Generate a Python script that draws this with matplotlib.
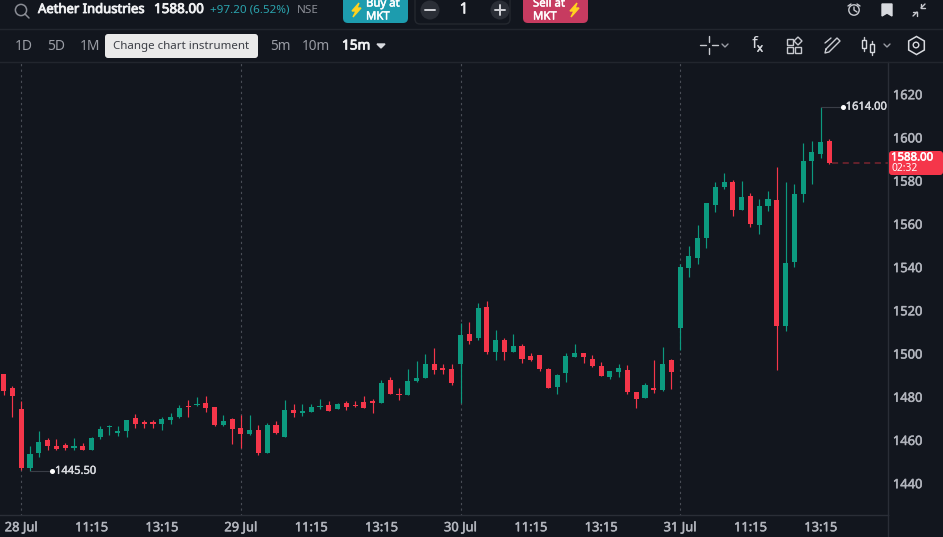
import numpy as np
import matplotlib
matplotlib.use('Agg')
import matplotlib.pyplot as plt
import matplotlib.patheffects as pe
from matplotlib.patches import FancyBboxPatch, Circle, Polygon, Rectangle

plt.rcParams['font.family'] = ['Noto Sans', 'DejaVu Sans']

# 15m candles, first one is two bars before the 28 Jul open
opens = [1490.4, 1483.9, 1474.2, 1446.9, 1453.9, 1459.9, 1457.1, 1457.6, 1456.2, 1457.1, 1455.3, 1461.3,
         1465.9, 1463.1, 1464.1, 1470.1, 1468.2, 1468.2, 1467.3, 1469.2, 1470.5, 1475.6, 1476.1, 1477.0,
         1475.2, 1466.8, 1469.6, 1465.4, 1462.7, 1464.5, 1453.9, 1466.8, 1461.3, 1473.8, 1472.4, 1472.9,
         1475.2, 1476.1, 1474.2, 1477.0, 1476.1, 1477.5, 1478.0, 1477.0, 1487.7, 1481.2, 1480.7, 1487.2,
         1488.6, 1495.1, 1493.2, 1492.7, 1495.1, 1508.9, 1507.1, 1521.4, 1500.6, 1506.2, 1500.6, 1503.4,
         1498.8, 1499.2, 1492.7, 1484.4, 1490.9, 1498.3, 1500.1, 1497.4, 1494.1, 1489.0, 1491.4, 1492.3,
         1482.1, 1479.3, 1483.9, 1483.0, 1496.9, 1511.7, 1539.5, 1544.1, 1553.4, 1568.6, 1577.0, 1579.3,
         1566.3, 1572.8, 1559.4, 1568.2, 1570.9, 1512.6, 1542.3, 1573.7, 1589.0, 1592.2, 1598.2]
closes = [1482.6, 1480.2, 1446.9, 1453.4, 1459.0, 1457.1, 1455.7, 1456.2, 1457.1, 1455.3, 1460.8, 1465.0,
          1466.4, 1464.1, 1469.2, 1467.3, 1467.3, 1467.3, 1469.6, 1470.5, 1474.7, 1475.2, 1476.5, 1474.7,
          1466.8, 1468.7, 1465.0, 1462.7, 1464.5, 1453.9, 1466.8, 1463.1, 1473.8, 1472.4, 1473.3, 1475.2,
          1475.6, 1473.3, 1476.5, 1475.2, 1475.6, 1474.7, 1477.0, 1486.3, 1481.2, 1480.7, 1487.2, 1488.6,
          1495.1, 1492.3, 1492.3, 1486.3, 1508.5, 1505.7, 1521.0, 1500.6, 1506.2, 1500.6, 1503.4, 1497.4,
          1496.9, 1492.7, 1483.9, 1490.0, 1498.8, 1500.1, 1498.3, 1494.1, 1489.5, 1491.8, 1493.2, 1482.1,
          1478.9, 1485.3, 1483.0, 1495.1, 1491.4, 1540.0, 1545.0, 1553.4, 1569.6, 1577.0, 1579.3, 1566.3,
          1572.3, 1559.9, 1568.2, 1571.4, 1512.6, 1541.8, 1573.7, 1589.0, 1593.2, 1597.8, 1588.0]
highs = [1490.4, 1485.2, 1478.0, 1457.1, 1464.1, 1460.8, 1460.4, 1458.5, 1460.8, 1458.5, 1461.3, 1466.4,
         1466.8, 1466.4, 1469.2, 1471.9, 1469.2, 1469.2, 1470.5, 1472.4, 1476.1, 1478.4, 1479.8, 1480.2,
         1475.2, 1471.5, 1470.1, 1471.5, 1471.5, 1466.8, 1467.8, 1468.7, 1478.4, 1476.5, 1476.5, 1476.5,
         1478.9, 1478.0, 1477.0, 1478.0, 1478.0, 1480.2, 1478.9, 1487.7, 1489.0, 1483.9, 1492.7, 1496.5,
         1499.7, 1502.5, 1495.1, 1495.1, 1514.0, 1514.5, 1523.3, 1524.2, 1510.8, 1507.1, 1508.9, 1504.3,
         1500.1, 1499.2, 1493.2, 1490.4, 1500.1, 1504.3, 1500.1, 1499.2, 1496.0, 1491.8, 1495.1, 1494.6,
         1482.1, 1486.3, 1496.9, 1502.9, 1497.4, 1541.3, 1549.7, 1559.4, 1569.6, 1579.3, 1583.4, 1580.2,
         1579.7, 1574.2, 1571.4, 1575.1, 1586.2, 1579.3, 1578.3, 1597.3, 1598.2, 1614.0, 1599.2]
lows = [1480.7, 1470.5, 1446.0, 1445.5, 1452.0, 1455.3, 1455.3, 1455.3, 1455.3, 1455.3, 1455.3, 1460.4,
        1462.2, 1461.8, 1461.3, 1465.4, 1465.4, 1465.4, 1464.5, 1467.3, 1470.1, 1470.5, 1475.6, 1472.9,
        1466.4, 1466.4, 1458.0, 1456.2, 1462.2, 1453.0, 1453.9, 1462.7, 1461.3, 1470.5, 1471.0, 1472.9,
        1474.2, 1473.3, 1474.2, 1473.8, 1475.2, 1474.7, 1472.4, 1477.0, 1481.2, 1478.4, 1480.7, 1486.7,
        1488.6, 1490.4, 1490.4, 1485.3, 1477.0, 1504.3, 1506.2, 1499.7, 1496.9, 1496.9, 1500.6, 1495.5,
        1496.4, 1491.8, 1483.9, 1481.2, 1486.7, 1498.3, 1495.5, 1493.7, 1489.5, 1488.1, 1489.0, 1481.2,
        1474.7, 1479.3, 1481.6, 1482.6, 1483.5, 1501.5, 1535.3, 1541.3, 1548.7, 1565.4, 1576.0, 1563.5,
        1566.3, 1558.5, 1555.2, 1565.9, 1492.3, 1510.3, 1540.0, 1570.0, 1578.3, 1590.4, 1587.6]
first_bar = -2

price_ticks = [1440, 1460, 1480, 1500, 1520, 1540, 1560, 1580, 1600, 1620]
time_ticks = [0, 8, 16, 25, 33, 41, 50, 58, 66, 75, 83, 91]
time_labels = ['28 Jul', '11:15', '13:15', '29 Jul', '11:15', '13:15',
               '30 Jul', '11:15', '13:15', '31 Jul', '11:15', '13:15']
day_starts = [0, 25, 50, 75]
low_bar, low_price = 1, 1445.50
high_bar, high_price = 91, 1614.00
last_price = 1588.00

BG = '#12161e'
GREEN = '#0c9a7f'
RED = '#f5364a'
GREY = '#b2b5bd'
LINE = '#2a2e37'

W, H = 943, 537
fig = plt.figure(figsize=(W / 100, H / 100), dpi=100, facecolor=BG)


def heavy(txt, color, w=0.35):
    # the bold cut is not picked up, thicken the glyphs a little instead
    txt.set_path_effects([pe.withStroke(linewidth=w, foreground=color)])


# chart area 0..888 x 62..515 in pixels
ax = fig.add_axes([0, (H - 515) / H, 888 / W, (515 - 62) / H], facecolor=BG)
bars = np.arange(len(opens)) + first_bar
opens = np.array(opens)
closes = np.array(closes)
colors = [GREEN if c >= o else RED for o, c in zip(opens, closes)]

ax.vlines(day_starts, 1400, 1660, color='#4a4e57', lw=0.8, ls=(0, (2, 3)), zorder=1)
ax.vlines(bars, lows, highs, color=colors, lw=0.85, zorder=2)
ax.bar(bars, np.abs(closes - opens), bottom=np.minimum(opens, closes), width=0.58, color=colors, zorder=3)

ax.set_xlim(-2.42, 98.66)
ax.set_ylim(1425.3, 1634.9)
ax.yaxis.tick_right()
ax.set_yticks(price_ticks)
ax.set_xticks(time_ticks)
ax.set_xticklabels(time_labels)
ax.tick_params(axis='both', length=0, labelcolor=GREY, labelsize=9.3)
ax.tick_params(axis='y', pad=3.5)
ax.tick_params(axis='x', pad=4.5)
for lab in ax.get_xticklabels() + ax.get_yticklabels():
    heavy(lab, GREY)
for s in ['top', 'left']:
    ax.spines[s].set_visible(False)
for s in ['right', 'bottom']:
    ax.spines[s].set_color(LINE)
    ax.spines[s].set_linewidth(1)

# high / low callouts
ax.plot([low_bar, low_bar + 2.45], [low_price, low_price], color='#3a3e47', lw=0.8, zorder=2)
ax.plot(low_bar + 2.45, low_price, 'o', color='white', ms=2.6, zorder=4)
t = ax.text(low_bar + 2.85, low_price, '%.2f' % low_price, color='#d8dadf', fontsize=8, va='center')
heavy(t, '#d8dadf', 0.3)
ax.plot([high_bar, high_bar + 2.55], [high_price, high_price], color='#3a3e47', lw=0.8, zorder=2)
ax.plot(high_bar + 2.55, high_price, 'o', color='white', ms=2.6, zorder=4)
t = ax.text(high_bar + 2.85, high_price, '%.2f' % high_price, color='#d8dadf', fontsize=8, va='center')
heavy(t, '#d8dadf', 0.3)

# last price line
ax.plot([bars[-1] + 0.3, 98.66], [last_price, last_price], color='#7a2530', lw=1.1, ls=(0, (4, 3)), zorder=2)

# toolbar and overlays, pixel coordinates
ui = fig.add_axes([0, 0, 1, 1], facecolor='none')
ui.set_xlim(0, W)
ui.set_ylim(H, 0)
ui.axis('off')


def label(x, y, s, color='#9a9da5', size=9.5, w=0, ha='left'):
    t = ui.text(x, y, s, color=color, fontsize=size, ha=ha, va='center', zorder=6)
    if w:
        heavy(t, color, w)


def stroke(xs, ys, color='#c8cad0', lw=1.0):
    ui.plot(xs, ys, color=color, lw=lw, solid_capstyle='round')


def bolt(x, y):
    ui.add_patch(Polygon([(x + 3, y - 7), (x - 4, y + 1), (x, y + 1), (x - 3, y + 7), (x + 5, y - 2), (x + 1, y - 2)],
                         color='#ffd21f', zorder=6))


ui.plot([0, W], [29, 29], color='#22262e', lw=1)
ui.plot([0, W], [62, 62], color='#22262e', lw=1)
ui.plot([888, 888], [515, 537], color=LINE, lw=1)

# search
ui.add_patch(Circle((21, 10), 5.6, fill=False, ec='#8a8d95', lw=1.1))
stroke([25, 29], [14, 18], '#8a8d95', 1.1)

label(38, 9.5, 'Aether Industries', '#f0f1f3', 9.4, 0.6)
label(154, 9.5, '1588.00', '#f0f1f3', 9.7, 0.6)
label(210, 10.5, '+97.20 (6.52%)', '#2ba3ad', 8.4)
label(297, 10.5, 'NSE', '#8a8d95', 8.4)

# buy / qty / sell
ui.add_patch(FancyBboxPatch((343, -8), 65, 31, boxstyle='round,pad=0,rounding_size=5', fc='#1d9cae', ec='none'))
bolt(356, 10)
label(366, 4, 'Buy at', 'white', 8.2, 0.35)
label(366, 17, 'MKT', 'white', 8.2, 0.35)
ui.add_patch(FancyBboxPatch((415, -8), 95, 32, boxstyle='round,pad=0,rounding_size=5', fc='none', ec='#24282f', lw=1))
for cx in (430, 500):
    ui.add_patch(Circle((cx, 10), 9.5, fc='#2a2e36', ec='none'))
stroke([425, 435], [10, 10], '#d0d2d7', 1.4)
stroke([495, 505], [10, 10], '#d0d2d7', 1.4)
stroke([500, 500], [5, 15], '#d0d2d7', 1.4)
label(464, 10, '1', '#f0f1f3', 11, 0.4, 'center')
ui.add_patch(FancyBboxPatch((523, -8), 65, 31, boxstyle='round,pad=0,rounding_size=5', fc='#c73b60', ec='none'))
label(533, 4, 'Sell at', 'white', 8.2, 0.35)
label(533, 17, 'MKT', 'white', 8.2, 0.35)
bolt(574, 10)

# right top icons
ui.add_patch(Circle((854, 10), 5.2, fill=False, ec='#c8cad0', lw=1))
stroke([854, 854, 857], [7, 10, 12])
stroke([848, 851], [6, 4])
stroke([857, 860], [4, 6])
ui.add_patch(Polygon([(882, 4), (892, 4), (892, 16), (887, 13), (882, 16)], color='#d8dadf'))
stroke([921, 925], [8, 4])
stroke([917, 913], [12, 16])
stroke([921, 921, 925], [4, 8, 8])
stroke([913, 917, 917], [12, 12, 16])

# timeframe row
label(15, 46, '1D', size=10)
label(47, 46, '5D', size=10)
label(80, 46, '1M', size=10)
label(270, 46, '5m', size=9.8)
label(302, 46, '10m', size=9.8)
label(342, 46, '15m', '#f0f1f3', 9.8, 0.6)
ui.add_patch(Polygon([(377, 44), (385, 44), (381, 48)], color='#d8dadf'))
ui.add_patch(FancyBboxPatch((105, 34), 153, 24, boxstyle='round,pad=0,rounding_size=3', fc='#e9e9e9', ec='none', zorder=5))
ui.text(181.5, 46.5, 'Change chart instrument', color='#3c3f46', fontsize=8.3, ha='center', va='center', zorder=6)

# tool icons
stroke([700, 706], [45, 45])
stroke([712, 718], [45, 45])
stroke([709, 709], [36, 42])
stroke([709, 709], [48, 54])
stroke([722, 725, 728], [44, 47, 44], '#9a9da5')
label(752, 44, 'f', '#d8dadf', 12)
label(757, 49, 'x', '#d8dadf', 8, 0.4)
for rx, ry in [(787, 39), (787, 47), (795, 47)]:
    ui.add_patch(Rectangle((rx, ry), 6, 6, fill=False, ec='#c8cad0', lw=1))
ui.add_patch(Polygon([(798, 37), (802, 41), (798, 45), (794, 41)], fill=False, ec='#c8cad0', lw=1))
stroke([826, 837, 840, 829, 825, 826], [49, 38, 41, 52, 53, 49])
stroke([825, 831], [43, 38])
stroke([864, 864], [37, 51])
ui.add_patch(Rectangle((862, 40), 4, 8, fc=BG, ec='#d8dadf', lw=1, zorder=5))
stroke([872, 872], [41, 55])
ui.add_patch(Rectangle((870, 44), 4, 8, fc=BG, ec='#d8dadf', lw=1, zorder=5))
stroke([884, 887, 890], [44, 47, 44], '#9a9da5')
ui.plot(916, 45, marker='h', ms=13, mfc='none', mec='#d8dadf', mew=1.1)
ui.add_patch(Circle((916, 45), 2.8, fill=False, ec='#d8dadf', lw=1))

# last price tag
ui.add_patch(FancyBboxPatch((889, 151), 54, 24, boxstyle='round,pad=0,rounding_size=3', fc=RED, ec='none', zorder=5))
label(891, 158, '%.2f' % last_price, 'white', 8.2, 0.4)
label(891, 168.5, '02:32', 'white', 7.4)

fig.savefig('out.png', dpi=100, facecolor=BG)
